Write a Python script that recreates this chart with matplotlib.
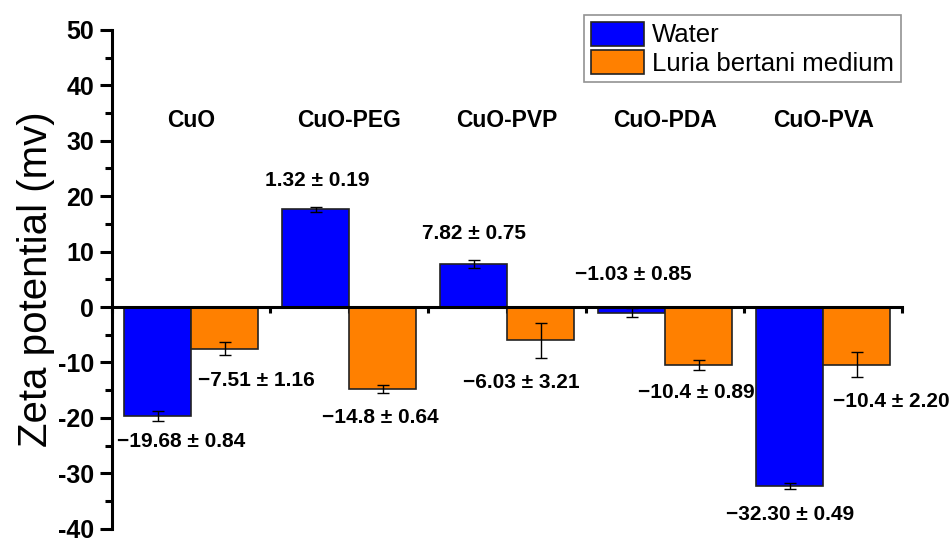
import numpy as np
import matplotlib
matplotlib.use('Agg')
import matplotlib.pyplot as plt

plt.rcParams['font.family'] = ['Liberation Sans', 'DejaVu Sans']
plt.rcParams['axes.unicode_minus'] = False

samples = ['CuO', 'CuO-PEG', 'CuO-PVP', 'CuO-PDA', 'CuO-PVA']
water = [-19.68, 17.6, 7.82, -1.03, -32.30]
water_err = [0.84, 0.40, 0.75, 0.85, 0.49]
lb_medium = [-7.51, -14.8, -6.03, -10.4, -10.4]
lb_err = [1.16, 0.64, 3.21, 0.89, 2.20]

# value labels as printed on the figure, with their spots (data coords)
water_text = ['\u221219.68 \u00b1 0.84', '1.32 \u00b1 0.19', '7.82 \u00b1 0.75',
              '\u22121.03 \u00b1 0.85', '\u221232.30 \u00b1 0.49']
water_text_xy = [(0.94, -24.2), (1.80, 22.8), (2.79, 13.3), (3.80, 5.9), (4.79, -37.5)]
lb_text = ['\u22127.51 \u00b1 1.16', '\u221214.8 \u00b1 0.64', '\u22126.03 \u00b1 3.21',
           '\u221210.4 \u00b1 0.89', '\u221210.4 \u00b1 2.20']
lb_text_xy = [(1.41, -13.2), (2.20, -19.9), (3.09, -13.7), (4.20, -15.5), (5.06, -17.1)]

x = np.arange(1, len(samples) + 1)
w = 0.425

fig = plt.figure(figsize=(9.5, 5.45), dpi=100)
ax = fig.add_axes([0.118, 0.03, 0.8316, 0.915])

err_kw = dict(ecolor='black', elinewidth=1.0, capsize=4, capthick=1.0)
ax.bar(x - w / 2, water, w, yerr=water_err, color='#0000ff', edgecolor='#222222',
       linewidth=1.2, label='Water', error_kw=err_kw, zorder=2)
ax.bar(x + w / 2, lb_medium, w, yerr=lb_err, color='#ff8000', edgecolor='#222222',
       linewidth=1.2, label='Luria bertani medium', error_kw=err_kw, zorder=2)

for name, xi in zip(samples, x):
    ax.text(xi, 33.6, name, ha='center', va='center', fontsize=16.5, fontweight='bold')
for t, (tx, ty) in zip(water_text, water_text_xy):
    ax.text(tx, ty, t, ha='center', va='center', fontsize=15, fontweight='bold')
for i, (t, (tx, ty)) in enumerate(zip(lb_text, lb_text_xy)):
    ha = 'left' if i == len(lb_text) - 1 else 'center'
    ax.text(tx, ty, t, ha=ha, va='center', fontsize=15, fontweight='bold', clip_on=False)

ax.set_xlim(0.5, 5.5)
ax.set_ylim(-40, 50)
ax.set_yticks(np.arange(-40, 51, 10))
ax.set_yticks(np.arange(-35, 50, 10), minor=True)
ax.set_xticks(np.arange(0.5, 5.51, 0.5))
ax.set_xticklabels([])
ax.spines['top'].set_visible(False)
ax.spines['right'].set_visible(False)
ax.spines['bottom'].set_position(('data', 0))
ax.spines['left'].set_linewidth(2.2)
ax.spines['bottom'].set_linewidth(2.2)
ax.tick_params(axis='y', which='major', length=9, width=2.2, labelsize=18, pad=4)
ax.tick_params(axis='y', which='minor', length=5, width=2.2)
ax.tick_params(axis='x', length=4, width=2.2)
for lab in ax.get_yticklabels():
    lab.set_fontweight('bold')

ax.set_ylabel('Zeta potential (mv)', fontsize=29, labelpad=2)

leg = fig.legend(loc='upper right', bbox_to_anchor=(0.948, 0.972), fontsize=18.5,
                 frameon=True, fancybox=False, edgecolor='#777777', borderpad=0.25,
                 labelspacing=0.1, handlelength=2.1, handleheight=1.05, handletextpad=0.3,
                 borderaxespad=0)
leg.get_frame().set_linewidth(1.2)

fig.savefig('out.png', dpi=100)
